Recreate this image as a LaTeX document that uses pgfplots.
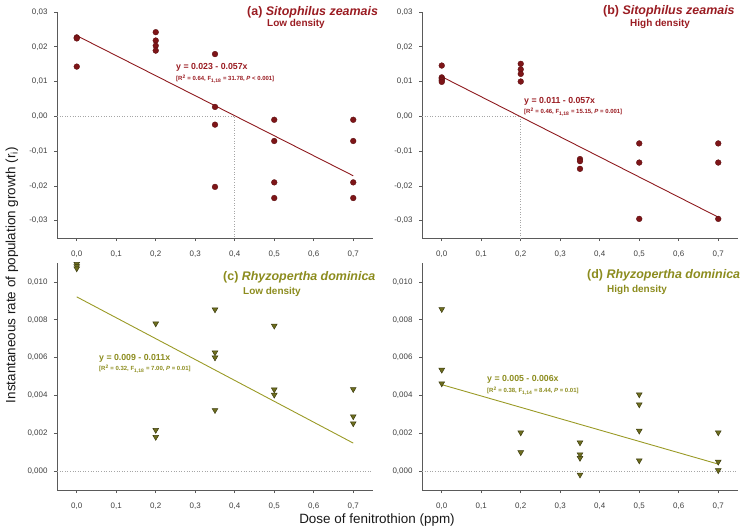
\documentclass[border=0pt]{standalone}
\usepackage{fontspec}
\setmainfont{Liberation Sans}
\usepackage{pgfplots}
\pgfplotsset{compat=1.18}
\definecolor{zred}{HTML}{7E1518}
\definecolor{zredline}{HTML}{8E1A1E}
\definecolor{zredtxt}{HTML}{9A1C22}
\definecolor{rol}{HTML}{6E6E1E}
\definecolor{roledge}{HTML}{3C3C10}
\definecolor{rolline}{HTML}{9A9A26}
\definecolor{roltxt}{HTML}{8C8C1E}
\definecolor{axgray}{HTML}{5A5A5A}
\pgfplotsset{
  panel/.style={
    scale only axis, width=316bp, clip=false,
    xmin=-0.05, xmax=0.75,
    scaled ticks=false,
    axis x line*=bottom, axis y line*=left,
    axis line style={axgray, line width=0.6pt},
    tick align=outside, major tick length=3bp,
    tick style={axgray, line width=0.6pt},
    xtick={0,0.1,0.2,0.3,0.4,0.5,0.6,0.7},
    tick label style={font=\fontsize{8}{9}\selectfont, text=black!75},
    /pgf/number format/.cd, fixed, fixed zerofill, use comma, assume math mode=true,
    /pgfplots/.cd,
    xticklabel style={/pgf/number format/precision=1, yshift=-6bp},
    yticklabel style={xshift=-3bp},
  },
  zpts/.style={only marks, mark=*, mark size=2.9bp, mark options={fill=zred, draw=zred!70!black, line width=0.3pt}},
  rpts/.style={only marks, mark=triangle*, mark size=3.3bp, mark options={rotate=180, fill=rol, draw=roledge, line width=0.5pt}},
  guide/.style={gray!70, dotted, line width=0.6pt},
}
\begin{document}
\begin{tikzpicture}
\useasboundingbox (0,0) rectangle (751bp,-531bp);
% (a)
\begin{axis}[panel, at={(57bp,-238bp)}, anchor=south west, height=226bp,
  ymin=-0.035, ymax=0.03, ytick={-0.03,-0.02,-0.01,0,0.01,0.02,0.03},
  yticklabel style={/pgf/number format/precision=2}]
\addplot[guide] coordinates {(-0.05,0) (0.4,0) (0.4,-0.035)};
\addplot[zredline, line width=0.9pt] coordinates {(0,0.0232) (0.7,-0.0171)};
\addplot[zpts] coordinates {
(0,0.0227) (0,0.0224) (0,0.0143)
(0.2,0.0242) (0.2,0.0218) (0.2,0.0203) (0.2,0.0189)
(0.35,0.0179) (0.35,0.0027) (0.35,-0.0024) (0.35,-0.0203)
(0.5,-0.0010) (0.5,-0.0071) (0.5,-0.0190) (0.5,-0.0235)
(0.7,-0.0010) (0.7,-0.0071) (0.7,-0.0190) (0.7,-0.0235)};
\end{axis}
% (b)
\begin{axis}[panel, at={(422bp,-238bp)}, anchor=south west, height=226bp,
  ymin=-0.035, ymax=0.03, ytick={-0.03,-0.02,-0.01,0,0.01,0.02,0.03},
  yticklabel style={/pgf/number format/precision=2}]
\addplot[guide] coordinates {(-0.05,0) (0.2,0) (0.2,-0.035)};
\addplot[zredline, line width=0.9pt] coordinates {(0,0.0114) (0.7,-0.0290)};
\addplot[zpts] coordinates {
(0,0.0146) (0,0.0112) (0,0.0108) (0,0.0104) (0,0.0099)
(0.2,0.0151) (0.2,0.0135) (0.2,0.0122) (0.2,0.0100)
(0.35,-0.0123) (0.35,-0.0129) (0.35,-0.0151)
(0.5,-0.0078) (0.5,-0.0133) (0.5,-0.0295)
(0.7,-0.0078) (0.7,-0.0133) (0.7,-0.0295)};
\end{axis}
% (c)
\begin{axis}[panel, at={(57bp,-490bp)}, anchor=south west, height=227bp,
  ymin=-0.001, ymax=0.011, ytick={0,0.002,0.004,0.006,0.008,0.010},
  yticklabel style={/pgf/number format/precision=3}]
\addplot[guide] coordinates {(-0.05,0) (0.75,0)};
\addplot[rolline, line width=0.9pt] coordinates {(0,0.00921) (0.7,0.00148)};
\addplot[rpts] coordinates {
(0,0.01095) (0,0.01083) (0,0.01071)
(0.2,0.00780) (0.2,0.00217) (0.2,0.00180)
(0.35,0.00854) (0.35,0.00627) (0.35,0.00600) (0.35,0.00322)
(0.5,0.00768) (0.5,0.00431) (0.5,0.00403)
(0.7,0.00433) (0.7,0.00289) (0.7,0.00252)};
\end{axis}
% (d)
\begin{axis}[panel, at={(422bp,-490bp)}, anchor=south west, height=227bp,
  ymin=-0.001, ymax=0.011, ytick={0,0.002,0.004,0.006,0.008,0.010},
  yticklabel style={/pgf/number format/precision=3}]
\addplot[guide] coordinates {(-0.05,0) (0.75,0)};
\addplot[rolline, line width=0.9pt] coordinates {(0,0.00457) (0.7,0.00037)};
\addplot[rpts] coordinates {
(0,0.00856) (0,0.00535) (0,0.00463)
(0.2,0.00204) (0.2,0.00099)
(0.35,0.00151) (0.35,0.00088) (0.35,0.00069) (0.35,-0.00019)
(0.5,0.00405) (0.5,0.00352) (0.5,0.00213) (0.5,0.00056)
(0.7,0.00204) (0.7,0.00049) (0.7,0.00004)};
\end{axis}
% titles and annotations
\begin{scope}[every node/.style={anchor=west, inner sep=0pt}]
\node[text=zredtxt, font=\bfseries\fontsize{12.5}{14}\selectfont] at (247bp,-12bp) {(a) \textit{Sitophilus zeamais}};
\node[text=zredtxt, font=\bfseries\fontsize{10}{12}\selectfont] at (267bp,-24bp) {Low density};
\node[text=zredtxt, font=\bfseries\fontsize{12.5}{14}\selectfont] at (603bp,-11bp) {(b) \textit{Sitophilus zeamais}};
\node[text=zredtxt, font=\bfseries\fontsize{10}{12}\selectfont] at (630bp,-24bp) {High density};
\node[text=zredtxt, font=\bfseries\fontsize{8.8}{10}\selectfont] at (176bp,-67bp) {y = 0.023 - 0.057x};
\node[text=zredtxt, font=\bfseries\fontsize{6}{7}\selectfont] at (176bp,-79bp) {[R\textsuperscript{2} = 0.64, F\textsubscript{1,18} = 31.78, \textit{P} < 0.001]};
\node[text=zredtxt, font=\bfseries\fontsize{8.8}{10}\selectfont] at (524bp,-101bp) {y = 0.011 - 0.057x};
\node[text=zredtxt, font=\bfseries\fontsize{6}{7}\selectfont] at (524bp,-112bp) {[R\textsuperscript{2} = 0.46, F\textsubscript{1,18} = 15.15, \textit{P} = 0.001]};
\node[text=roltxt, font=\bfseries\fontsize{12.5}{14}\selectfont] at (223bp,-277bp) {(c) \textit{Rhyzopertha dominica}};
\node[text=roltxt, font=\bfseries\fontsize{10}{12}\selectfont] at (243bp,-292bp) {Low density};
\node[text=roltxt, font=\bfseries\fontsize{12.5}{14}\selectfont] at (587bp,-275bp) {(d) \textit{Rhyzopertha dominica}};
\node[text=roltxt, font=\bfseries\fontsize{10}{12}\selectfont] at (607bp,-290bp) {High density};
\node[text=roltxt, font=\bfseries\fontsize{8.8}{10}\selectfont] at (99bp,-358bp) {y = 0.009 - 0.011x};
\node[text=roltxt, font=\bfseries\fontsize{6}{7}\selectfont] at (99bp,-369bp) {[R\textsuperscript{2} = 0.32, F\textsubscript{1,18} = 7.00, \textit{P} = 0.01]};
\node[text=roltxt, font=\bfseries\fontsize{8.8}{10}\selectfont] at (487bp,-379bp) {y = 0.005 - 0.006x};
\node[text=roltxt, font=\bfseries\fontsize{6}{7}\selectfont] at (487bp,-391bp) {[R\textsuperscript{2} = 0.38, F\textsubscript{1,14} = 8.44, \textit{P} = 0.01]};
\end{scope}
\node[font=\fontsize{13.5}{15}\selectfont, text=black!90] at (377bp,-520bp) {Dose of fenitrothion (ppm)};
\node[font=\fontsize{13.5}{15}\selectfont, text=black!90, rotate=90] at (12bp,-275bp) {Instantaneous rate of population growth (r\textsubscript{i})};
\end{tikzpicture}
\end{document}
